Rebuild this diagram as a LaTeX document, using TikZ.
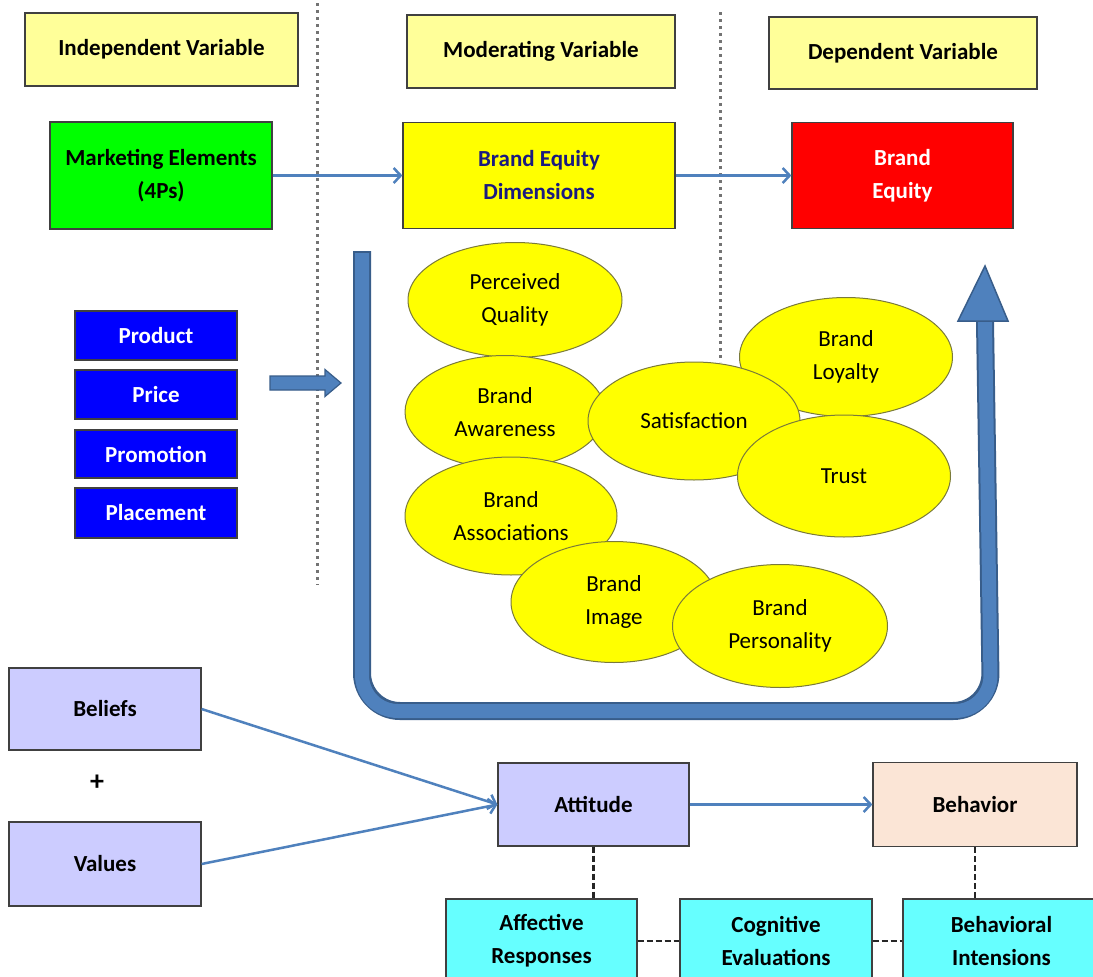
\documentclass[tikz,border=0pt]{standalone}
\usepackage{fontspec}
\setmainfont{Carlito}
\usetikzlibrary{shapes.geometric,arrows.meta}
\definecolor{hdr}{HTML}{FFFF99}
\definecolor{boxline}{HTML}{404040}
\definecolor{mgreen}{HTML}{00FF00}
\definecolor{pblue}{HTML}{0000FF}
\definecolor{lav}{HTML}{CCCCFF}
\definecolor{peach}{HTML}{FBE5D6}
\definecolor{cyanb}{HTML}{66FFFF}
\definecolor{steel}{HTML}{4F81BD}
\definecolor{steeldark}{HTML}{385D8A}
\definecolor{ellline}{HTML}{7A7A3A}
\definecolor{navy}{HTML}{1A1A80}
\definecolor{ylw}{HTML}{FFFF00}
\begin{document}
\begin{tikzpicture}[x=1pt,y=-1pt,
  box/.style={draw=boxline, line width=1.2pt, inner sep=0pt, align=center,
    font=\bfseries\fontsize{23}{33}\selectfont},
  pbox/.style={box, fill=pblue, text=white, minimum width=162pt},
  ell/.style={ellipse, draw=ellline, fill=ylw, line width=1pt, inner sep=0pt,
    align=center, font=\fontsize{23}{33}\selectfont},
  conn/.style={draw=steel, line width=2.5pt,
    -{Straight Barb[length=7pt,width=15pt,line width=2.5pt]}},
  dots/.style={draw=black!55, line width=3pt, dash pattern=on 3pt off 4pt},
  dsh/.style={draw=black!85, line width=2.5pt, dash pattern=on 6pt off 3pt}
]
\clip (0,0) rectangle (1093,977);
\fill[white] (0,0) rectangle (1093,977);

% dotted separators
\coordinate (d1a) at (317,3);
\coordinate (d1b) at (317,585);
\coordinate (d2a) at (720,12);
\coordinate (d2b) at (720,362);
\draw[dots] (d1a) -- (d1b);
\draw[dots] (d2a) -- (d2b);

% header row
\node[box, fill=hdr, minimum width=273pt, minimum height=73pt] (ind) at (161.5,49.5) {Independent Variable};
\node[box, fill=hdr, minimum width=268pt, minimum height=73pt] (mod) at (541,51.5) {Moderating Variable};
\node[box, fill=hdr, minimum width=268pt, minimum height=72pt] (dep) at (903,53) {Dependent Variable};

% second row
\node[box, fill=mgreen, minimum width=222pt, minimum height=107pt] (me) at (161,175.5) {Marketing Elements\\(4Ps)};
\node[box, fill=ylw, text=navy, minimum width=272pt, minimum height=106pt] (bed) at (539,175.5) {Brand Equity\\Dimensions};
\node[box, fill=red, text=white, minimum width=221pt, minimum height=106pt] (be) at (902.5,175.5) {Brand\\Equity};
\draw[conn] (me) -- (bed);
\draw[conn] (bed) -- (be);

% 4Ps
\node[pbox, minimum height=49pt] (prod) at (156,335.5) {Product};
\node[pbox, minimum height=49pt] (price) at (156,394.5) {Price};
\node[pbox, minimum height=48pt] (promo) at (156,454) {Promotion};
\node[pbox, minimum height=50pt] (place) at (156,513) {Placement};

% block arrow
\draw[steeldark, fill=steel, line width=1.2pt]
  (270,376) -- (325,376) -- (325,369.5) -- (341,383) -- (325,396.5) -- (325,390) -- (270,390) -- cycle;

% U arrow
\draw[steeldark, line width=18pt, rounded corners=38pt] (362,251) -- (362,711) -- (991,711) -- (985,322);
\draw[steel, line width=14pt, rounded corners=36pt] (362,253) -- (362,711) -- (991,711) -- (985,322);
\draw[steeldark, fill=steel, line width=1.5pt, line join=miter] (958,321) -- (1008,321) -- (985,266) -- cycle;

% ellipses
\node[ell, minimum width=214pt, minimum height=115pt] (pq) at (515,300) {Perceived\\Quality};
\node[ell, minimum width=200pt, minimum height=113pt] (ba) at (505,412) {Brand\\Awareness};
\node[ell, minimum width=213pt, minimum height=119pt] (bl) at (846,357) {Brand\\Loyalty};
\node[ell, minimum width=212pt, minimum height=118pt] (sat) at (694,421) {Satisfaction};
\node[ell, minimum width=213pt, minimum height=122pt] (tr) at (844,476) {Trust};
\node[ell, minimum width=212pt, minimum height=118pt] (bas) at (511,516) {Brand\\Associations};
\node[ell, minimum width=206pt, minimum height=121pt] (bim) at (614,602) {Brand\\Image};
\node[ell, minimum width=215pt, minimum height=123pt] (bp) at (780,626) {Brand\\Personality};

% attitude section
\node[box, fill=lav, minimum width=192pt, minimum height=82pt] (bel) at (105,709) {Beliefs};
\node[font=\bfseries\fontsize{28}{30}\selectfont] (plus) at (97,783) {+};
\node[box, fill=lav, minimum width=192pt, minimum height=84pt] (val) at (105,864) {Values};
\node[box, fill=lav, minimum width=191pt, minimum height=83pt] (att) at (593.5,804.5) {Attitude};
\node[box, fill=peach, minimum width=204pt, minimum height=84pt] (beh) at (975,804.5) {Behavior};
\node[box, fill=cyanb, minimum width=191pt, minimum height=84pt] (aff) at (541.5,941) {Affective\\Responses};
\node[box, fill=cyanb, minimum width=192pt, minimum height=84pt] (cog) at (776,941) {Cognitive\\Evaluations};
\node[box, fill=cyanb, minimum width=197pt, minimum height=84pt] (bi) at (1001.5,941) {Behavioral\\Intensions};

\draw[conn] (bel.east) -- (att.west);
\draw[conn] (val.east) -- (att.west);
\draw[conn] (att) -- (beh);
\draw[dsh] (att.south) -- (att.south |- aff.north);
\draw[dsh] (beh.south) -- (beh.south |- bi.north);
\draw[dsh] (aff.east) -- (cog.west);
\draw[dsh] (cog.east) -- (bi.west);
\end{tikzpicture}
\end{document}
